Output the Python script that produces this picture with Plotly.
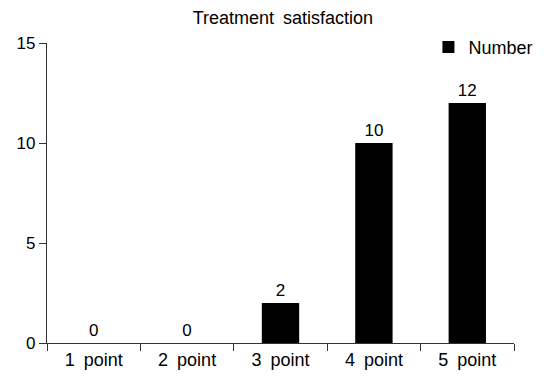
import plotly.graph_objects as go

categories = ["1 point", "2 point", "3 point", "4 point", "5 point"]
values = [0, 0, 2, 10, 12]
series_name = "Number"
title_text = "Treatment satisfaction"

FONT = "Liberation Sans, Arial, sans-serif"
WIDE = "\u2002"

fig = go.Figure()
fig.add_trace(go.Bar(
    x=categories, y=values, name=series_name,
    marker=dict(color="black", line=dict(width=0)),
    text=[str(v) for v in values], textposition="outside",
    textfont=dict(size=17, color="black", family=FONT),
    cliponaxis=False,
    showlegend=True,
))

# page has an 8px body margin: figure is sized/offset to compensate
fig.update_layout(
    width=539, height=373,
    margin=dict(l=39, r=33, t=35, b=38, autoexpand=False),
    paper_bgcolor="white", plot_bgcolor="white",
    font=dict(family=FONT, size=18, color="black"),
    title=dict(text=title_text.replace(" ", WIDE), x=0.51, xanchor="center",
               xref="container", yref="container", y=0.974, yanchor="middle",
               font=dict(size=18, color="black", family=FONT)),
    bargap=0.6,
    showlegend=True,
    legend=dict(xref="container", yref="container", x=0.78, xanchor="left",
                y=0.944, yanchor="top",
                bgcolor="rgba(0,0,0,0)", font=dict(size=18, color="black"),
                itemwidth=30),
)
fig.update_xaxes(
    type="category", tickson="boundaries", ticks="outside", ticklen=7,
    tickcolor="#333", showline=True, linecolor="#333", linewidth=1.3,
    tickvals=categories, ticktext=[c.replace(" ", WIDE) for c in categories],
    showgrid=False, zeroline=False, tickfont=dict(size=18),
)
fig.update_yaxes(
    range=[0, 15], dtick=5, ticks="outside", ticklen=7, tickcolor="#333",
    showline=True, linecolor="#333", linewidth=1.3, showgrid=False,
    zeroline=False, tickfont=dict(size=17),
)

fig.write_html("out.html")
